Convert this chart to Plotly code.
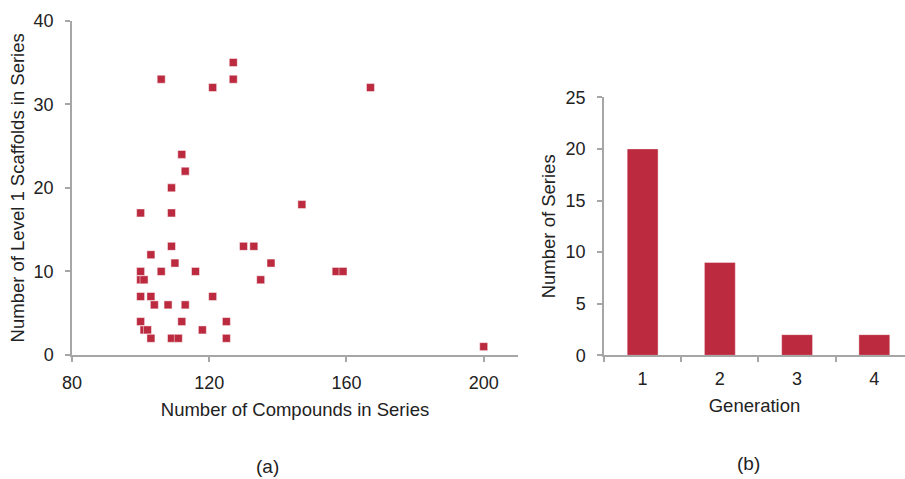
import plotly.graph_objects as go

# Scatter data (a)
compounds = [106, 121, 127, 127, 167, 112, 113, 109, 100, 109, 147, 109, 130, 133,
             103, 110, 138, 100, 106, 116, 157, 159, 100, 101, 135, 100, 103, 121,
             104, 108, 113, 100, 112, 125, 101, 102, 118, 103, 109, 111, 125, 200]
scaffolds = [33, 32, 35, 33, 32, 24, 22, 20, 17, 17, 18, 13, 13, 13,
             12, 11, 11, 10, 10, 10, 10, 10, 9, 9, 9, 7, 7, 7,
             6, 6, 6, 4, 4, 4, 3, 3, 3, 2, 2, 2, 2, 1]

# Bar data (b)
generations = ["1", "2", "3", "4"]
series_counts = [20, 9, 2, 2]

RED = "#BC2A3F"
AX = "#A6A6A6"
TXT = "#222222"
FONT = "Liberation Sans, Arial, sans-serif"
W, H = 905, 479
TICK_SIZE = 18
TITLE_SIZE = 18.5

fig = go.Figure()
fig.add_trace(go.Scatter(x=compounds, y=scaffolds, mode="markers",
                         marker=dict(symbol="square", size=8, color=RED,
                                     line=dict(width=0.8, color="rgba(255,255,255,0.6)")),
                         xaxis="x", yaxis="y", showlegend=False))
fig.add_trace(go.Bar(x=generations, y=series_counts,
                     marker=dict(color=RED, line=dict(width=0.8, color="rgba(255,255,255,0.5)")),
                     width=0.4, xaxis="x2", yaxis="y2", showlegend=False))

def px_x(p):
    return p / W

def px_y(p):
    return (H - p) / H

common = dict(showgrid=False, zeroline=False, showline=True, linecolor=AX, linewidth=1.5,
              ticks="outside", ticklen=5, tickwidth=1.5, tickcolor=AX, automargin=False,
              tickfont=dict(family=FONT, size=TICK_SIZE, color=TXT))
tfont = dict(family=FONT, size=TITLE_SIZE, color=TXT)

fig.update_layout(
    width=W, height=H, margin=dict(l=0, r=0, t=0, b=0),
    paper_bgcolor="white", plot_bgcolor="white",
    font=dict(family=FONT, color=TXT),
    xaxis=dict(domain=[px_x(72), px_x(518)], range=[80, 210], tickvals=[80, 120, 160, 200],
               anchor="y", ticklabelstandoff=6,
               title=dict(text="Number of Compounds in Series", font=tfont, standoff=11),
               **common),
    yaxis=dict(domain=[px_y(355), px_y(20.7)], range=[0, 40], tickvals=[0, 10, 20, 30, 40],
               anchor="x", ticklabelstandoff=8,
               title=dict(text="Number of Level 1 Scaffolds in Series", font=tfont, standoff=4),
               **common),
    xaxis2=dict(domain=[px_x(604), 1.0], range=[-0.5, 3.397], type="category", tickson="boundaries",
                anchor="y2", ticklabelstandoff=6,
                title=dict(text="Generation", font=tfont, standoff=11),
                **common),
    yaxis2=dict(domain=[px_y(355.3), px_y(97.3)], range=[0, 25], tickvals=[0, 5, 10, 15, 20, 25],
                anchor="x2", ticklabelstandoff=8,
                title=dict(text="Number of Series", font=tfont, standoff=5),
                **common),
    annotations=[
        dict(text="(a)", x=px_x(267), y=px_y(466), xref="paper", yref="paper", showarrow=False,
             font=dict(family=FONT, size=19, color=TXT), xanchor="center", yanchor="middle"),
        dict(text="(b)", x=px_x(748), y=px_y(463), xref="paper", yref="paper", showarrow=False,
             font=dict(family=FONT, size=19, color=TXT), xanchor="center", yanchor="middle"),
    ],
)

fig.write_html("out.html", config={"displayModeBar": False},
               post_script="document.body.style.margin='0';document.body.style.overflow='hidden';")
